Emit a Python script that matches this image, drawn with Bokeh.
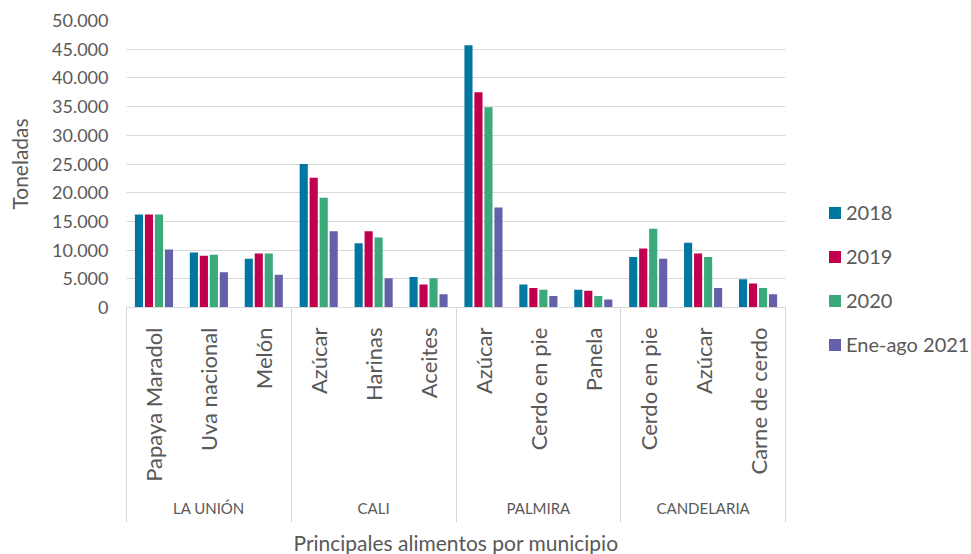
import math
from bokeh.plotting import figure
from bokeh.models import (FactorRange, ColumnDataSource, FixedTicker, Legend,
                          LegendItem, Range1d, LinearAxis)
from bokeh.transform import dodge
from bokeh.embed import file_html
from bokeh.resources import INLINE

# ---------------- data ----------------
municipios = ["LA UNIÓN", "CALI", "PALMIRA", "CANDELARIA"]
productos = [
    ["Papaya Maradol", "Uva nacional", "Melón"],
    ["Azúcar", "Harinas", "Aceites"],
    ["Azúcar", "Cerdo en pie", "Panela"],
    ["Cerdo en pie", "Azúcar", "Carne de cerdo"],
]
series_names = ["2018", "2019", "2020", "Ene-ago 2021"]
v2018 = [16200, 9600, 8500, 25000, 11200, 5300, 45700, 4000, 3100, 8800, 11300, 4900]
v2019 = [16200, 9000, 9400, 22600, 13300, 4000, 37500, 3400, 2900, 10300, 9400, 4200]
v2020 = [16200, 9200, 9400, 19100, 12200, 5100, 34900, 3100, 2000, 13700, 8800, 3400]
v2021 = [10100, 6150, 5700, 13300, 5100, 2300, 17400, 2000, 1400, 8500, 3400, 2300]
y_ticks = [0, 5000, 10000, 15000, 20000, 25000, 30000, 35000, 40000, 45000, 50000]
y_tick_labels = ["0", "5.000", "10.000", "15.000", "20.000", "25.000",
                 "30.000", "35.000", "40.000", "45.000", "50.000"]

colors = ["#0077A0", "#C0004F", "#3AAA7A", "#6460AA"]
FONT = "Lato"
TXT = "#595959"
GRID = "#D9D9D9"

factors = [(m, p) for m, plist in zip(municipios, productos) for p in plist]
source = ColumnDataSource(dict(x=factors, s0=v2018, s1=v2019, s2=v2020, s3=v2021))

# group boundaries (in synthetic category units) for the Excel-like separators
bounds = [0]
for plist in productos:
    bounds.append(bounds[-1] + len(plist))

p = figure(x_range=FactorRange(factors=factors, group_padding=0, factor_padding=0,
                               range_padding=0, subgroup_padding=0),
           y_range=Range1d(0, 50000),
           frame_width=659, frame_height=287,
           min_border_left=126, min_border_right=170,
           min_border_top=20, min_border_bottom=239,
           output_backend="svg", toolbar_location=None)
p.outline_line_color = None
p.background_fill_color = "white"
p.border_fill_color = "white"

offsets = [-0.273, -0.091, 0.091, 0.273]
renderers = []
for i, (name, col, off) in enumerate(zip(series_names, colors, offsets)):
    r = p.vbar(x=dodge("x", off, range=p.x_range), top="s%d" % i, width=0.148,
               source=source, fill_color=col, line_color=None)
    renderers.append(r)

# y axis
ya = p.yaxis[0]
ya.ticker = FixedTicker(ticks=y_ticks)
ya.major_label_overrides = {t: l for t, l in zip(y_ticks, y_tick_labels)}
ya.axis_line_color = None
ya.major_tick_line_color = None
ya.minor_tick_line_color = None
ya.major_label_standoff = 12
ya.major_label_text_font = FONT
ya.major_label_text_font_size = "18px"
ya.major_label_text_color = TXT
ya.axis_label = "Toneladas"
ya.axis_label_text_font = FONT
ya.axis_label_text_font_size = "21px"
ya.axis_label_text_font_style = "normal"
ya.axis_label_text_color = TXT
ya.axis_label_standoff = 17

p.ygrid.grid_line_color = GRID
p.xgrid.grid_line_color = None

# x axis
xa = p.xaxis[0]
xa.axis_line_color = GRID
xa.major_tick_line_color = None
xa.minor_tick_line_color = None
xa.major_label_orientation = math.pi / 2
xa.major_label_standoff = 14
xa.major_label_text_font = FONT
xa.major_label_text_font_size = "22px"
xa.major_label_text_color = TXT
xa.group_text_font = FONT
xa.group_text_font_size = "15px"
xa.group_text_font_style = "normal"
xa.group_text_color = TXT
xa.separator_line_color = None
xa.axis_label = "Principales alimentos por municipio"
xa.axis_label_text_font = FONT
xa.axis_label_text_font_size = "21px"
xa.axis_label_text_font_style = "normal"
xa.axis_label_text_color = TXT
xa.axis_label_standoff = 10

# separator axis: long tick marks at the group boundaries
sep = LinearAxis(ticker=FixedTicker(ticks=bounds),
                 axis_line_color=None, major_tick_in=-215, major_tick_out=0,
                 major_tick_line_color=GRID, major_tick_line_width=1,
                 minor_tick_line_color=None, major_label_text_font_size="0px",
                 major_label_standoff=0, major_label_text_alpha=0)
p.below = [sep] + list(p.below)

legend = Legend(items=[LegendItem(label=n, renderers=[r]) for n, r in zip(series_names, renderers)],
                location=(42, -49), orientation="vertical",
                glyph_width=15, glyph_height=15, label_standoff=4,
                label_text_font=FONT, label_text_font_size="20px",
                label_text_color=TXT, spacing=20, padding=0, margin=0,
                border_line_color=None, background_fill_alpha=0)
p.add_layout(legend, "right")

open("out.html", "w").write(file_html(p, INLINE))
